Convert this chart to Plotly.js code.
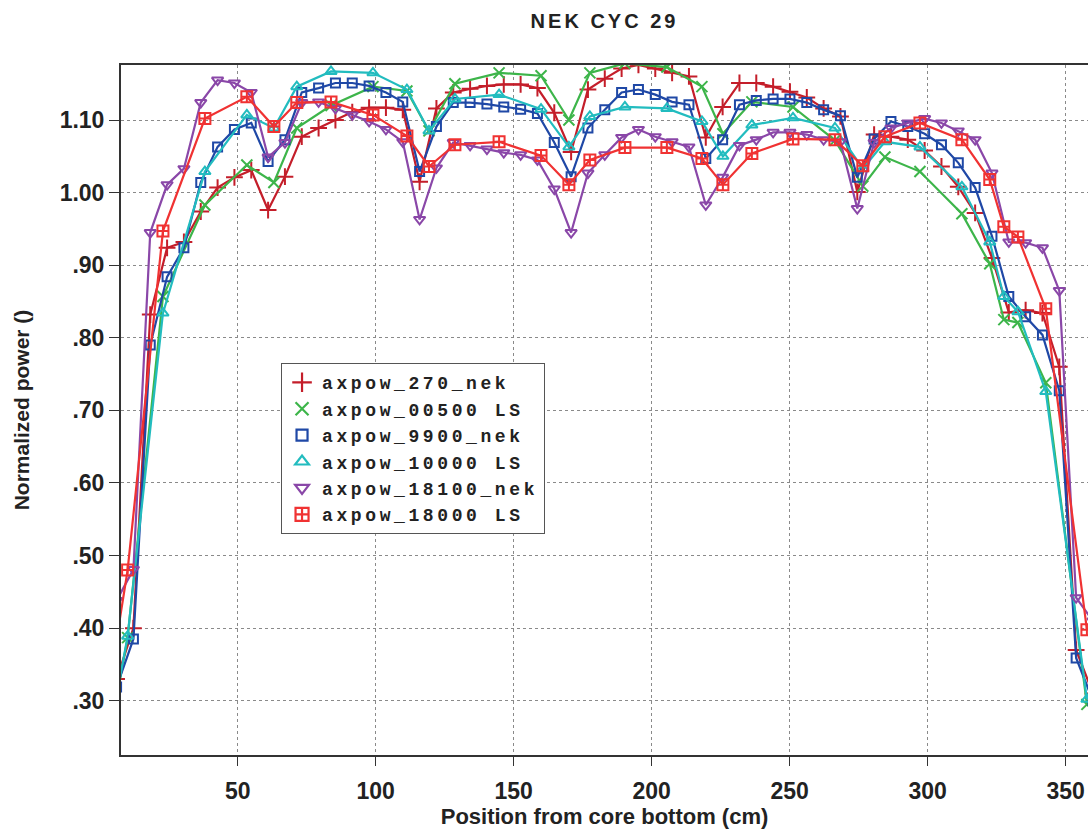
<!DOCTYPE html>
<html><head><meta charset="utf-8">
<script src="https://cdn.plot.ly/plotly-3.0.1.min.js"></script>
<style>
html,body{margin:0;padding:0;background:#fff;overflow:hidden}
.legendtext{letter-spacing:3.6px}
.gtitle{letter-spacing:3px}
</style></head><body><div id="chart" style="width:1088px;height:832px"></div>
<script>
const chartTitle = 'NEK CYC 29';
const xTitle = 'Position from core bottom (cm)';
const yTitle = 'Normalized power ()';
const xTickVals = [50, 100, 150, 200, 250, 300, 350];
const yTickVals = [0.3, 0.4, 0.5, 0.6, 0.7, 0.8, 0.9, 1.0, 1.1];
const yTickText = ['.30', '.40', '.50', '.60', '.70', '.80', '.90', '1.00', '1.10'];

const nekX = [6.1, 12.2, 18.3, 24.4, 30.5, 36.6, 42.7, 48.8, 54.9, 61.0, 67.1, 73.2, 79.3, 85.4, 91.5, 97.6, 103.7, 109.8, 115.9, 122.0, 128.1, 134.2, 140.3, 146.4, 152.5, 158.6, 164.7, 170.8, 176.9, 183.0, 189.1, 195.2, 201.3, 207.4, 213.5, 219.6, 225.7, 231.8, 237.9, 244.0, 250.1, 256.2, 262.3, 268.4, 274.5, 280.6, 286.7, 292.8, 298.9, 305.0, 311.1, 317.2, 323.3, 329.4, 335.5, 341.6, 347.7, 353.8, 359.9];
const lsX = [5.0, 10.1, 22.9, 38.1, 53.3, 63.1, 71.4, 83.8, 99.0, 111.3, 119.3, 128.7, 144.7, 159.9, 170.0, 177.6, 190.3, 205.5, 218.2, 225.8, 236.3, 251.2, 266.4, 276.5, 284.5, 297.2, 312.4, 322.5, 327.6, 332.7, 342.8, 357.7];

const axpow270nek = [0.33, 0.40, 0.832, 0.924, 0.932, 0.974, 1.007, 1.021, 1.031, 0.976, 1.022, 1.077, 1.089, 1.100, 1.111, 1.117, 1.117, 1.114, 1.015, 1.116, 1.138, 1.143, 1.147, 1.149, 1.149, 1.144, 1.110, 1.056, 1.142, 1.157, 1.171, 1.176, 1.171, 1.165, 1.160, 1.076, 1.118, 1.151, 1.151, 1.146, 1.139, 1.131, 1.116, 1.105, 1.001, 1.080, 1.077, 1.073, 1.058, 1.036, 1.008, 0.972, 0.910, 0.835, 0.838, 0.834, 0.760, 0.37, 0.31];
const axpow00500LS = [0.28, 0.387, 0.857, 0.983, 1.038, 1.014, 1.089, 1.120, 1.146, 1.140, 1.085, 1.150, 1.165, 1.161, 1.100, 1.165, 1.178, 1.173, 1.146, 1.081, 1.125, 1.118, 1.072, 1.009, 1.049, 1.029, 0.971, 0.902, 0.825, 0.821, 0.738, 0.295];
const axpow9900nek = [0.319, 0.385, 0.790, 0.884, 0.924, 1.014, 1.063, 1.087, 1.096, 1.043, 1.073, 1.138, 1.144, 1.151, 1.151, 1.147, 1.138, 1.125, 1.029, 1.091, 1.124, 1.124, 1.122, 1.118, 1.115, 1.109, 1.069, 1.022, 1.089, 1.114, 1.138, 1.142, 1.135, 1.125, 1.121, 1.047, 1.073, 1.121, 1.127, 1.129, 1.129, 1.124, 1.114, 1.106, 1.021, 1.074, 1.098, 1.091, 1.081, 1.066, 1.041, 1.007, 0.940, 0.857, 0.829, 0.804, 0.727, 0.359, 0.30];
const axpow10000LS = [0.283, 0.389, 0.834, 1.029, 1.107, 1.089, 1.146, 1.167, 1.165, 1.142, 1.085, 1.129, 1.135, 1.115, 1.063, 1.105, 1.118, 1.116, 1.098, 1.050, 1.093, 1.103, 1.089, 1.033, 1.070, 1.063, 1.008, 0.932, 0.857, 0.836, 0.726, 0.302];
const axpow18100nek = [0.438, 0.481, 0.945, 1.011, 1.033, 1.124, 1.155, 1.151, 1.138, 1.049, 1.069, 1.124, 1.125, 1.116, 1.107, 1.098, 1.087, 1.070, 0.963, 1.034, 1.069, 1.065, 1.060, 1.055, 1.052, 1.045, 1.005, 0.945, 1.027, 1.052, 1.076, 1.087, 1.077, 1.070, 1.063, 0.983, 1.021, 1.065, 1.073, 1.083, 1.083, 1.080, 1.073, 1.070, 0.978, 1.069, 1.089, 1.096, 1.102, 1.096, 1.085, 1.073, 1.027, 0.932, 0.931, 0.924, 0.865, 0.442, 0.41];
const axpow18000LS = [0.358, 0.480, 0.947, 1.102, 1.132, 1.091, 1.124, 1.125, 1.107, 1.078, 1.036, 1.066, 1.070, 1.051, 1.011, 1.045, 1.062, 1.062, 1.047, 1.011, 1.054, 1.074, 1.073, 1.037, 1.077, 1.096, 1.073, 1.018, 0.953, 0.939, 0.840, 0.398];

const series = [
  {name: 'axpow_270_nek',   x: nekX, y: axpow270nek,   color: '#c41e2a', symbol: 'cross-thin-open', size: 12},
  {name: 'axpow_00500 LS',  x: lsX,  y: axpow00500LS,  color: '#3db54a', symbol: 'x-thin-open', size: 11},
  {name: 'axpow_9900_nek',  x: nekX, y: axpow9900nek,  color: '#1f48a6', symbol: 'square-open', size: 9},
  {name: 'axpow_10000 LS',  x: lsX,  y: axpow10000LS,  color: '#22bcbf', symbol: 'triangle-up-open', size: 10},
  {name: 'axpow_18100_nek', x: nekX, y: axpow18100nek, color: '#8a47a8', symbol: 'triangle-down-open', size: 10},
  {name: 'axpow_18000 LS',  x: lsX,  y: axpow18000LS,  color: '#f03232', symbol: 'square-cross-open', size: 11}
];

const traces = [];
series.forEach(s => {
  traces.push({
    type: 'scatter', mode: 'lines+markers', x: s.x, y: s.y, name: s.name, showlegend: false,
    line: {color: s.color, width: 2.2},
    marker: {symbol: s.symbol, size: s.size, color: s.color, line: {color: s.color, width: 2}}
  });
});
series.forEach(s => {
  traces.push({
    type: 'scatter', mode: 'markers', x: [null], y: [null], name: s.name, showlegend: true,
    marker: {symbol: s.symbol, size: s.size + 2, color: s.color, line: {color: s.color, width: 2.2}}
  });
});

const fontFam = 'Liberation Sans, Arial, sans-serif';
const layout = {
  width: 1088, height: 832, autosize: false,
  margin: {l: 121, r: 0, t: 65, b: 77},
  paper_bgcolor: '#fff', plot_bgcolor: '#fff',
  title: {text: chartTitle, x: 0.5, xref: 'paper', y: 0.975, yref: 'container', yanchor: 'middle',
          font: {family: fontFam, size: 20, weight: 'bold', color: '#222'}},
  showlegend: true,
  legend: {x: 0.1655, y: 0.568, xanchor: 'left', yanchor: 'top', bgcolor: '#fff', bordercolor: '#555', borderwidth: 1,
           font: {family: 'Liberation Mono, Courier New, monospace', size: 18, weight: 'bold', color: '#222'},
           tracegroupgap: 0},
  xaxis: {range: [7.7, 358.1], tickvals: xTickVals, ticks: 'outside', ticklen: 9, tickcolor: '#333', tickwidth: 1,
          showline: true, linecolor: '#333', linewidth: 2, mirror: true,
          showgrid: true, gridcolor: '#8a8a8a', griddash: 'dot', gridwidth: 1, zeroline: false,
          ticklabelstandoff: 5,
          tickfont: {family: fontFam, size: 23, weight: 'bold', color: '#222'},
          title: {text: xTitle, standoff: 4, font: {family: fontFam, size: 22, weight: 'bold', color: '#222'}}},
  yaxis: {range: [0.2253, 1.1758], tickvals: yTickVals, ticktext: yTickText, ticks: 'outside', ticklen: 10, tickcolor: '#333', tickwidth: 1,
          showline: true, linecolor: '#333', linewidth: 2, mirror: false,
          showgrid: true, gridcolor: '#8a8a8a', griddash: 'dot', gridwidth: 1, zeroline: false,
          tickfont: {family: fontFam, size: 23, weight: 'bold', color: '#222'},
          title: {text: yTitle, standoff: 24, font: {family: fontFam, size: 21, weight: 'bold', color: '#222'}}}
};

Plotly.newPlot('chart', traces, layout, {staticPlot: true, displayModeBar: false});
</script></body></html>
